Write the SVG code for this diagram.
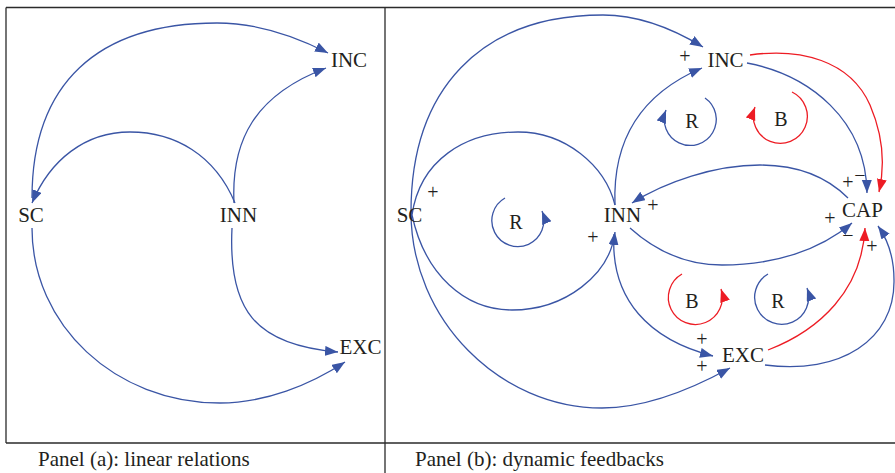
<svg xmlns="http://www.w3.org/2000/svg" width="895" height="473" viewBox="0 0 895 473">
<defs>
<style>
.frame{fill:none;stroke:#2b2b2b;stroke-width:1.3}
.b{fill:none;stroke:#3a55a5;stroke-width:1.3}
.r{fill:none;stroke:#ed1c24;stroke-width:1.3}
.ab{marker-end:url(#ahB)}
.ar{marker-end:url(#ahR)}
text{font-family:"Liberation Serif","Times New Roman",serif;fill:#231f20}
.node{font-size:21px;text-anchor:middle}
.loop{font-size:20px;text-anchor:middle}
.sign{font-size:20px;text-anchor:middle}
.cap{font-size:21px}
</style>
<marker id="ahB" markerUnits="userSpaceOnUse" markerWidth="14" markerHeight="11" refX="13" refY="5" orient="auto"><path d="M0,0 L13,5 L0,10 z" fill="#3a55a5"/></marker>
<marker id="ahR" markerUnits="userSpaceOnUse" markerWidth="14" markerHeight="11" refX="13" refY="5" orient="auto"><path d="M0,0 L13,5 L0,10 z" fill="#ed1c24"/></marker>
</defs>
<g id="frame">
<path class="frame" d="M6,7.5 H895 M6,443 H895 M6,7.5 V443 M385,7.5 V473"/>
</g>
<g id="connectors-a">
<path class="b ab" d="M32,198 C32,84 97,23 217,23 C255,23 295,36 328,53"/>
<path class="b ab" d="M235,203 C215,155 175,132 130,132 C85,132 50,160 32,203"/>
<path class="b ab" d="M234,203 C231,140 255,95 326,68"/>
<path class="b ab" d="M232,228 C228,310 255,345 338,352"/>
<path class="b ab" d="M32,228 C32,325 115,403 220,403 C265,403 310,385 345,362"/>
</g>
<g id="connectors-b">
<path class="b ab" d="M411,212 C411,90 480,15 603,15 C640,15 675,30 703,47"/>
<path class="b" d="M412,215 C420,160 465,132 518,132 C565,132 605,165 615,205"/>
<path class="b ab" d="M615,205 C612,130 650,90 702,68"/>
<path class="b ab" d="M747,63 C810,75 866,120 867,193"/>
<path class="r ar" d="M750,55 C800,48 850,60 870,105 C885,140 884,170 879,192"/>
<path class="b ab" d="M848,198 C825,175 795,165 760,165 C715,165 665,182 632,203"/>
<path class="b ab" d="M630,228 C660,255 690,265 722,265 C775,265 820,250 852,223"/>
<path class="r ar" d="M768,350 C820,330 862,290 865,228"/>
<path class="b ab" d="M765,365 C840,375 895,340 894,280 C894,258 888,240 878,226"/>
<path class="b ab" d="M412,215 C425,275 465,310 512,310 C565,310 610,275 615,232"/>
<path class="b ab" d="M614,234 C610,300 650,340 713,356"/>
<path class="b ab" d="M411,212 C411,320 500,408 602,408 C645,408 690,390 730,368"/>
<path class="b ab" d="M705,98 A26,26 0 1,1 666,110"/>
<path class="r ar" d="M792,92 A27,27 0 1,1 755,107"/>
<path class="b ab" d="M505,198 A26,26 0 1,0 542,211"/>
<path class="r ar" d="M682,274 A27,27 0 1,0 721,289"/>
<path class="b ab" d="M768,274 A27,27 0 1,0 807,288"/>
</g>
<g id="a-SC"><text class="node" x="31" y="222">SC</text></g>
<g id="a-INN"><text class="node" x="238.5" y="222">INN</text></g>
<g id="a-INC"><text class="node" x="349" y="67">INC</text></g>
<g id="a-EXC"><text class="node" x="360.5" y="354">EXC</text></g>
<g id="b-SC"><text class="node" x="409.5" y="222">SC</text></g>
<g id="b-INN"><text class="node" x="622.5" y="222">INN</text></g>
<g id="b-INC"><text class="node" x="725.5" y="67">INC</text></g>
<g id="b-CAP"><text class="node" x="862.5" y="217">CAP</text></g>
<g id="b-EXC"><text class="node" x="743" y="362">EXC</text></g>
<g id="loops">
<text class="loop" x="692" y="128">R</text>
<text class="loop" x="781" y="126">B</text>
<text class="loop" x="516" y="229">R</text>
<text class="loop" x="692" y="308">B</text>
<text class="loop" x="778" y="308">R</text>
</g>
<g id="signs">
<text class="sign" x="685" y="63">+</text>
<text class="sign" x="433" y="199">+</text>
<text class="sign" x="653" y="212">+</text>
<text class="sign" x="593" y="244">+</text>
<text class="sign" x="848" y="189">+</text>
<text class="sign" x="860" y="182">−</text>
<text class="sign" x="830" y="225">+</text>
<text class="sign" x="848" y="242">−</text>
<text class="sign" x="872" y="253">+</text>
<text class="sign" x="702" y="346">+</text>
<text class="sign" x="702" y="373">+</text>
</g>
<g id="captions">
<text class="cap" x="38" y="466">Panel (a): linear relations</text>
<text class="cap" x="415" y="466">Panel (b): dynamic feedbacks</text>
</g>
</svg>
